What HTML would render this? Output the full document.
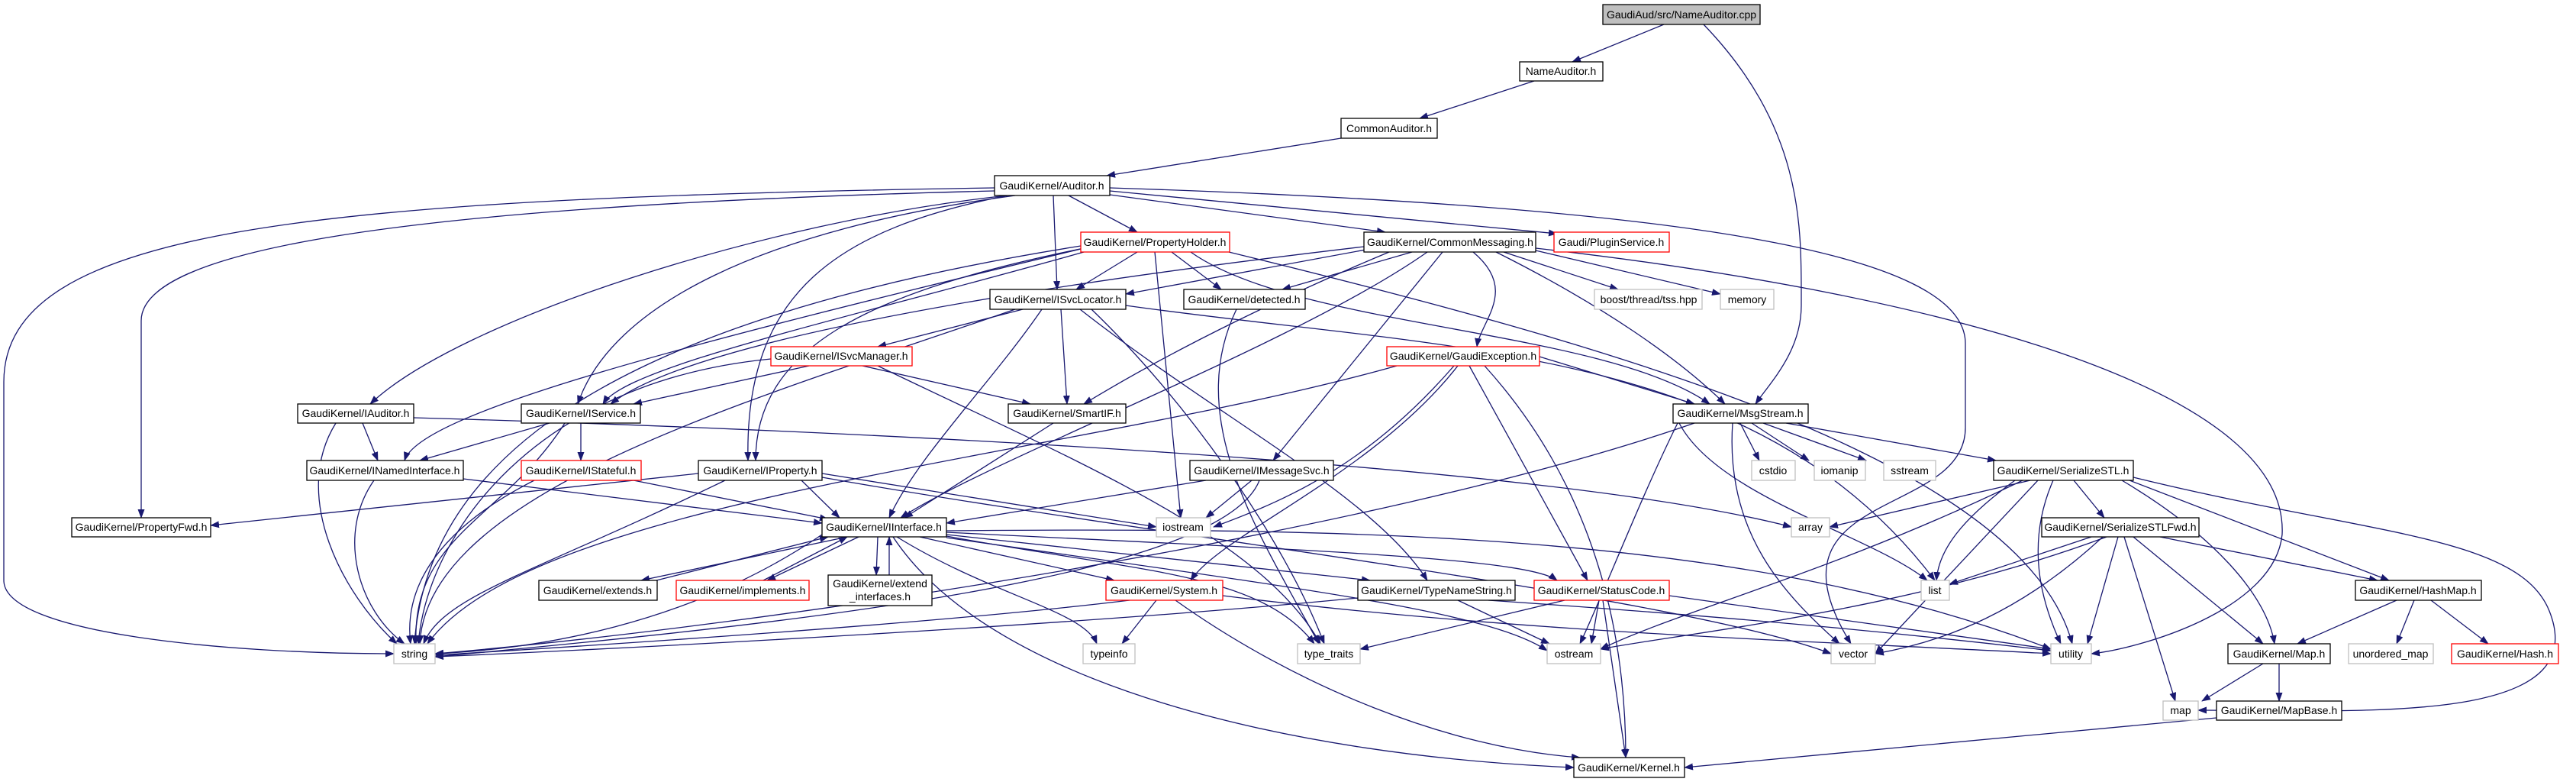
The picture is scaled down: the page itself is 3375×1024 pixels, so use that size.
<!DOCTYPE html>
<html><head><meta charset="utf-8"><style>
html,body{margin:0;padding:0;background:#fff;}
svg{display:block}
text{font-family:"Liberation Sans",sans-serif;font-size:14px;fill:#000}
.e{fill:none;stroke:#191970;stroke-width:1.3;marker-end:url(#a)}
.b{fill:#fff;stroke:#000;stroke-width:1.3}
.r{fill:#fff;stroke:#f00;stroke-width:1.3}
.g{fill:#fff;stroke:#bfbfbf;stroke-width:1.3}
</style></head><body>
<svg width="3375" height="1024" viewBox="0 0 3375 1024" xmlns="http://www.w3.org/2000/svg">
<defs><marker id="a" markerWidth="12" markerHeight="9" refX="11" refY="4.5" orient="auto" markerUnits="userSpaceOnUse"><path d="M0,0 L12,4.5 L0,9 z" fill="#191970"/></marker></defs>
<g>
<path class="e" d="M2180 32 L2060 81"/>
<path class="e" d="M2232 32 C2365 170 2360 300 2360 400 C2360 460 2320 500 2300 529"/>
<path class="e" d="M2010 106 L1860 155"/>
<path class="e" d="M1757 181 L1450 230"/>
<path class="e" d="M1303 246 C400 260 5 300 5 500 L5 760 C5 830 300 856 516 856"/>
<path class="e" d="M1303 250 C500 270 185 330 185 420 L185 678"/>
<path class="e" d="M1320 256 C1000 290 600 420 485 529"/>
<path class="e" d="M1330 256 C1000 300 800 400 757 529"/>
<path class="e" d="M1380 256 L1385 379"/>
<path class="e" d="M1400 256 L1490 304"/>
<path class="e" d="M1454 255 L1815 304"/>
<path class="e" d="M1454 250 L2040 306"/>
<path class="e" d="M1320 256 C1100 300 975 380 980 603"/>
<path class="e" d="M1454 246 C2200 270 2575 330 2575 450 L2575 560 C2575 680 2300 640 2425 843"/>
<path class="e" d="M1490 330 L1410 379"/>
<path class="e" d="M1535 330 L1600 379"/>
<path class="e" d="M1513 330 L1547 678"/>
<path class="e" d="M1420 325 C1150 380 990 450 990 603"/>
<path class="e" d="M1416 322 C800 420 560 600 543 843"/>
<path class="e" d="M1416 326 C900 450 550 540 530 603"/>
<path class="e" d="M1420 330 C1100 420 820 480 790 529"/>
<path class="e" d="M1560 330 C1700 430 2100 430 2240 529"/>
<path class="e" d="M1610 330 C2100 450 2650 600 2715 843"/>
<path class="e" d="M1800 325 L1475 385"/>
<path class="e" d="M1850 330 L1680 379"/>
<path class="e" d="M1970 330 L2120 379"/>
<path class="e" d="M2012 328 L2254 385"/>
<path class="e" d="M1960 330 C2100 400 2200 470 2260 529"/>
<path class="e" d="M1930 330 C1990 380 1940 420 1935 454"/>
<path class="e" d="M1890 330 L1668 603"/>
<path class="e" d="M1820 330 C1700 380 1550 450 1420 529"/>
<path class="e" d="M1787 323 C1300 380 900 450 800 529"/>
<path class="e" d="M1870 330 C1700 450 1300 600 1180 678"/>
<path class="e" d="M2012 325 C2500 380 3000 500 2990 700 C2980 800 2800 850 2740 856"/>
<path class="e" d="M1340 405 L1150 454"/>
<path class="e" d="M1390 405 L1398 529"/>
<path class="e" d="M1365 405 C1300 500 1200 600 1165 678"/>
<path class="e" d="M1415 405 C1600 550 1800 650 1870 760"/>
<path class="e" d="M1475 400 C1900 460 2300 450 2535 760"/>
<path class="e" d="M1330 405 C1000 520 560 640 550 843"/>
<path class="e" d="M1430 405 C1550 520 1680 700 1735 843"/>
<path class="e" d="M1620 405 C1550 550 1650 700 1728 843"/>
<path class="e" d="M1060 479 L830 529"/>
<path class="e" d="M1130 479 L1350 529"/>
<path class="e" d="M1010 470 C700 500 560 700 548 843"/>
<path class="e" d="M1150 479 C1400 600 1650 700 1730 843"/>
<path class="e" d="M2017 467 L2220 529"/>
<path class="e" d="M1830 479 C1400 600 700 650 560 843"/>
<path class="e" d="M1905 479 C1800 600 1700 650 1590 690"/>
<path class="e" d="M1910 479 C1800 620 1600 700 1560 760"/>
<path class="e" d="M1925 479 L2080 760"/>
<path class="e" d="M1945 479 C2100 650 2130 850 2130 992"/>
<path class="e" d="M475 554 L495 603"/>
<path class="e" d="M440 554 C380 650 450 780 520 843"/>
<path class="e" d="M542 547 C1000 560 2000 600 2347 690"/>
<path class="e" d="M720 554 L550 603"/>
<path class="e" d="M761 554 L761 603"/>
<path class="e" d="M740 554 C660 680 540 700 545 843"/>
<path class="e" d="M490 629 C440 700 470 800 530 843"/>
<path class="e" d="M607 627 L1077 685"/>
<path class="e" d="M700 629 C560 700 530 780 538 843"/>
<path class="e" d="M830 629 L1085 680"/>
<path class="e" d="M915 620 L276 688"/>
<path class="e" d="M950 629 C700 750 580 780 555 843"/>
<path class="e" d="M1050 629 L1100 678"/>
<path class="e" d="M1077 625 C1500 700 2200 780 2399 856"/>
<path class="e" d="M1077 620 L1515 690"/>
<path class="e" d="M1380 554 L1185 678"/>
<path class="e" d="M2280 554 L2305 603"/>
<path class="e" d="M2295 554 L2370 603"/>
<path class="e" d="M2310 554 L2445 603"/>
<path class="e" d="M2340 554 L2615 603"/>
<path class="e" d="M2270 554 C2260 700 2340 780 2410 843"/>
<path class="e" d="M2220 554 C1800 700 1000 820 570 856"/>
<path class="e" d="M2200 550 C2150 650 2100 780 2070 843"/>
<path class="e" d="M2200 554 C2250 650 2450 700 2525 760"/>
<path class="e" d="M1640 629 L1580 678"/>
<path class="e" d="M1580 629 L1240 685"/>
<path class="e" d="M1650 629 C1600 760 1000 820 570 860"/>
<path class="e" d="M1110 703 L840 760"/>
<path class="e" d="M1125 703 L1005 760"/>
<path class="e" d="M1150 703 L1148 753"/>
<path class="e" d="M1165 753 L1165 703"/>
<path class="e" d="M860 760 L1085 703"/>
<path class="e" d="M1000 760 L1110 703"/>
<path class="e" d="M1205 703 L1460 760"/>
<path class="e" d="M1240 700 L1795 760"/>
<path class="e" d="M1240 697 C1700 720 2000 730 2040 760"/>
<path class="e" d="M1175 703 C1300 780 1420 800 1437 843"/>
<path class="e" d="M1240 702 C1500 750 1650 750 1722 843"/>
<path class="e" d="M1240 704 C1700 770 1950 800 2027 852"/>
<path class="e" d="M1170 703 C1300 900 1700 990 2062 1005"/>
<path class="e" d="M1077 700 C900 820 700 850 570 856"/>
<path class="e" d="M1240 695 C1800 690 2300 700 2687 850"/>
<path class="e" d="M1480 786 C1200 820 700 850 570 858"/>
<path class="e" d="M1515 786 L1470 843"/>
<path class="e" d="M1540 786 C1700 900 1900 980 2070 992"/>
<path class="e" d="M1602 780 C2000 830 2400 840 2687 856"/>
<path class="e" d="M1779 783 C1400 820 800 850 570 860"/>
<path class="e" d="M1910 786 L2030 843"/>
<path class="e" d="M1950 786 C2300 810 2500 830 2687 852"/>
<path class="e" d="M2050 786 L1782 850"/>
<path class="e" d="M2095 786 L2085 843"/>
<path class="e" d="M2100 786 L2130 992"/>
<path class="e" d="M2187 780 L2687 850"/>
<path class="e" d="M2660 629 L2397 690"/>
<path class="e" d="M2640 629 C2570 680 2540 720 2537 760"/>
<path class="e" d="M2670 629 L2457 856"/>
<path class="e" d="M2690 629 C2650 720 2680 800 2700 843"/>
<path class="e" d="M2717 629 L2757 678"/>
<path class="e" d="M2780 629 C2900 700 2970 780 2980 843"/>
<path class="e" d="M2790 629 L3130 760"/>
<path class="e" d="M2650 629 C2400 750 2200 800 2097 850"/>
<path class="e" d="M2795 625 C3100 700 3300 700 3340 800 C3400 950 3100 930 2880 930"/>
<path class="e" d="M2740 703 L2554 765"/>
<path class="e" d="M2755 703 C2650 800 2550 840 2457 856"/>
<path class="e" d="M2775 703 L2735 843"/>
<path class="e" d="M2795 703 L2965 843"/>
<path class="e" d="M2830 703 L3115 760"/>
<path class="e" d="M2783 703 L2850 918"/>
<path class="e" d="M2760 703 C2500 800 2200 830 2097 850"/>
<path class="e" d="M3140 786 L3010 843"/>
<path class="e" d="M3163 786 L3140 843"/>
<path class="e" d="M3185 786 L3260 843"/>
<path class="e" d="M2965 869 L2885 918"/>
<path class="e" d="M2986 869 L2986 918"/>
<path class="e" d="M2904 940 L2207 1005"/>
</g>
<g text-anchor="middle">
<rect x="2100" y="6" width="206" height="26" fill="#bfbfbf" stroke="#000" stroke-width="1.3"/><text x="2203" y="24">GaudiAud/src/NameAuditor.cpp</text>
<rect class="b" x="1991" y="81" width="109" height="25"/><text x="2045" y="98">NameAuditor.h</text>
<rect class="b" x="1757" y="155" width="126" height="26"/><text x="1820" y="173">CommonAuditor.h</text>
<rect class="b" x="1303" y="230" width="151" height="26"/><text x="1378" y="248">GaudiKernel/Auditor.h</text>
<rect class="r" x="1416" y="304" width="195" height="26"/><text x="1513" y="322">GaudiKernel/PropertyHolder.h</text>
<rect class="b" x="1787" y="304" width="225" height="26"/><text x="1900" y="322">GaudiKernel/CommonMessaging.h</text>
<rect class="r" x="2036" y="304" width="151" height="26"/><text x="2111" y="322">Gaudi/PluginService.h</text>
<rect class="b" x="1297" y="379" width="178" height="26"/><text x="1386" y="397">GaudiKernel/ISvcLocator.h</text>
<rect class="b" x="1551" y="379" width="159" height="26"/><text x="1630" y="397">GaudiKernel/detected.h</text>
<rect class="g" x="2089" y="379" width="141" height="26"/><text x="2160" y="397">boost/thread/tss.hpp</text>
<rect class="g" x="2254" y="379" width="70" height="26"/><text x="2289" y="397">memory</text>
<rect class="r" x="1010" y="454" width="185" height="25"/><text x="1102" y="471">GaudiKernel/ISvcManager.h</text>
<rect class="r" x="1817" y="454" width="200" height="25"/><text x="1917" y="471">GaudiKernel/GaudiException.h</text>
<rect class="b" x="390" y="529" width="152" height="25"/><text x="466" y="546">GaudiKernel/IAuditor.h</text>
<rect class="b" x="683" y="529" width="156" height="25"/><text x="761" y="546">GaudiKernel/IService.h</text>
<rect class="b" x="1321" y="529" width="154" height="25"/><text x="1398" y="546">GaudiKernel/SmartIF.h</text>
<rect class="b" x="2192" y="529" width="177" height="25"/><text x="2280" y="546">GaudiKernel/MsgStream.h</text>
<rect class="b" x="402" y="603" width="205" height="26"/><text x="504" y="621">GaudiKernel/INamedInterface.h</text>
<rect class="r" x="683" y="603" width="157" height="26"/><text x="761" y="621">GaudiKernel/IStateful.h</text>
<rect class="b" x="915" y="603" width="162" height="26"/><text x="996" y="621">GaudiKernel/IProperty.h</text>
<rect class="b" x="1559" y="603" width="188" height="26"/><text x="1653" y="621">GaudiKernel/IMessageSvc.h</text>
<rect class="g" x="2295" y="603" width="57" height="26"/><text x="2323" y="621">cstdio</text>
<rect class="g" x="2377" y="603" width="67" height="26"/><text x="2410" y="621">iomanip</text>
<rect class="g" x="2468" y="603" width="68" height="26"/><text x="2502" y="621">sstream</text>
<rect class="b" x="2612" y="603" width="183" height="26"/><text x="2703" y="621">GaudiKernel/SerializeSTL.h</text>
<rect class="b" x="94" y="678" width="182" height="25"/><text x="185" y="695">GaudiKernel/PropertyFwd.h</text>
<rect class="b" x="1077" y="678" width="163" height="25"/><text x="1158" y="695">GaudiKernel/IInterface.h</text>
<rect class="g" x="1515" y="678" width="71" height="25"/><text x="1550" y="695">iostream</text>
<rect class="g" x="2347" y="678" width="50" height="25"/><text x="2372" y="695">array</text>
<rect class="b" x="2675" y="678" width="206" height="25"/><text x="2778" y="695">GaudiKernel/SerializeSTLFwd.h</text>
<rect class="b" x="706" y="760" width="155" height="26"/><text x="783" y="778">GaudiKernel/extends.h</text>
<rect class="r" x="886" y="760" width="174" height="26"/><text x="973" y="778">GaudiKernel/implements.h</text>
<rect class="b" x="1085" y="753" width="136" height="40"/><text x="1153" y="769">GaudiKernel/extend</text><text x="1153" y="786">_interfaces.h</text>
<rect class="r" x="1449" y="760" width="153" height="26"/><text x="1525" y="778">GaudiKernel/System.h</text>
<rect class="b" x="1779" y="760" width="206" height="26"/><text x="1882" y="778">GaudiKernel/TypeNameString.h</text>
<rect class="r" x="2010" y="760" width="177" height="26"/><text x="2098" y="778">GaudiKernel/StatusCode.h</text>
<rect class="g" x="2517" y="760" width="37" height="26"/><text x="2535" y="778">list</text>
<rect class="b" x="3086" y="760" width="165" height="26"/><text x="3168" y="778">GaudiKernel/HashMap.h</text>
<rect class="g" x="516" y="843" width="54" height="26"/><text x="543" y="861">string</text>
<rect class="g" x="1419" y="843" width="68" height="26"/><text x="1453" y="861">typeinfo</text>
<rect class="g" x="1700" y="843" width="82" height="26"/><text x="1741" y="861">type_traits</text>
<rect class="g" x="2027" y="843" width="70" height="26"/><text x="2062" y="861">ostream</text>
<rect class="g" x="2399" y="843" width="58" height="26"/><text x="2428" y="861">vector</text>
<rect class="g" x="2687" y="843" width="53" height="26"/><text x="2713" y="861">utility</text>
<rect class="b" x="2919" y="843" width="134" height="26"/><text x="2986" y="861">GaudiKernel/Map.h</text>
<rect class="g" x="3077" y="843" width="111" height="26"/><text x="3132" y="861">unordered_map</text>
<rect class="r" x="3212" y="843" width="140" height="26"/><text x="3282" y="861">GaudiKernel/Hash.h</text>
<rect class="g" x="2834" y="918" width="46" height="25"/><text x="2857" y="935">map</text>
<rect class="b" x="2904" y="918" width="164" height="25"/><text x="2986" y="935">GaudiKernel/MapBase.h</text>
<rect class="b" x="2062" y="992" width="145" height="26"/><text x="2134" y="1010">GaudiKernel/Kernel.h</text>
</g>
</svg>
</body></html>
